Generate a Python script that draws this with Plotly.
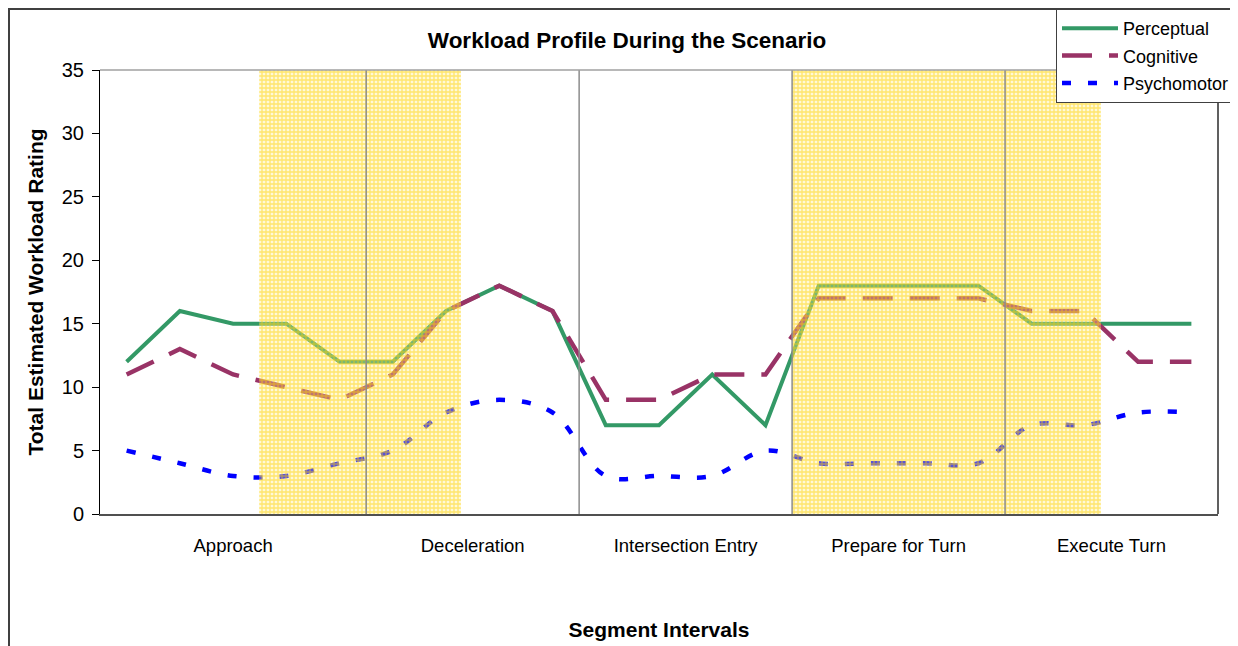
import plotly.graph_objects as go

# interval number along the scenario (one per estimate)
intervals = [1, 2, 3, 4, 5, 6, 7, 8, 9, 10, 11, 12, 13, 14, 15, 16, 17, 18, 19, 20, 21]

perceptual = [12, 16, 15, 15, 12, 12, 16, 18, 16, 7, 7, 11, 7, 18, 18, 18, 18, 15, 15, 15, 15]
cognitive = [11, 13, 11, 10, 9, 11, 16, 18, 16, 9, 9, 11, 11, 17, 17, 17, 17, 16, 16, 12, 12]
psychomotor = [5, 4, 3, 3, 4, 5, 8, 9, 8, 3, 3, 3, 5, 4, 4, 4, 4, 7, 7, 8, 8]

segments = ["Approach", "Deceleration", "Intersection Entry", "Prepare for Turn", "Execute Turn"]
segment_centers = [3, 7.5, 11.5, 15.5, 19.5]
segment_bounds = [5.5, 9.5, 13.5, 17.5]

# highlighted stretches (start, end) in interval units
band_start = [3.49, 13.5]
band_end = [7.28, 19.3]

FONT = "Liberation Sans, Arial, sans-serif"

fig = go.Figure()

fig.add_trace(go.Scatter(x=intervals, y=perceptual, name="Perceptual", mode="lines",
                         line=dict(color="#339966", width=4), legendgroup="a"))
fig.add_trace(go.Scatter(x=intervals, y=cognitive, name="Cognitive", mode="lines",
                         line=dict(color="#993366", width=4.5, dash="30px,17px"), legendgroup="b"))
fig.add_trace(go.Scatter(x=intervals, y=psychomotor, name="Psychomotor", mode="lines",
                         line=dict(color="#0000FF", width=4.5, dash="9px,17px", shape="spline"),
                         legendgroup="c"))

# yellow pattern bands, on an overlaid axis so they sit above the lines
centers = [(s + e) / 2 for s, e in zip(band_start, band_end)]
widths = [e - s for s, e in zip(band_start, band_end)]
fig.add_trace(go.Bar(x=centers, y=[35] * len(centers), width=widths, base=0,
                     xaxis="x2", yaxis="y2", showlegend=False, hoverinfo="skip",
                     marker=dict(color="#FFCC00", line=dict(width=0),
                                 pattern=dict(shape="+", size=4, solidity=0.55,
                                              fgcolor="#FFD000",
                                              bgcolor="rgba(255,236,140,0.35)"))))

shapes = []
for b in segment_bounds:
    shapes.append(dict(type="line", xref="x", yref="y", x0=b, x1=b, y0=0, y1=35,
                       line=dict(color="#8C8C8C", width=1.5), layer="above"))
# plot area top / right border
shapes.append(dict(type="line", xref="paper", yref="paper", x0=0, x1=1, y0=1, y1=1,
                   line=dict(color="#A0A0A0", width=1.5), layer="above"))
shapes.append(dict(type="line", xref="paper", yref="paper", x0=1, x1=1, y0=0, y1=1,
                   line=dict(color="#606060", width=2), layer="above"))
# chart frame
shapes.append(dict(type="rect", xref="paper", yref="paper", x0=-0.0814, x1=1.05,
                   y0=-0.35, y1=1.1374, line=dict(color="#404040", width=2), layer="below"))

fig.update_layout(
    width=1230, height=638,
    margin=dict(l=92, r=20, t=62, b=132, autoexpand=False),
    paper_bgcolor="white", plot_bgcolor="white",
    font=dict(family=FONT, color="black", size=18),
    title=dict(text="<b>Workload Profile During the Scenario</b>", x=619 / 1230, xanchor="center",
               y=1 - 32 / 638, yanchor="middle", font=dict(size=22.5)),
    shapes=shapes,
    showlegend=True,
    legend=dict(x=(1048 - 92) / 1118, y=1.1374, xanchor="left", yanchor="top",
                bgcolor="white", bordercolor="#404040", borderwidth=1,
                font=dict(size=18), itemwidth=56, tracegroupgap=1, traceorder="grouped"),
    xaxis=dict(range=[0.5, 21.5], tickvals=segment_centers, ticktext=segments,
               ticks="", showgrid=False, zeroline=False, showline=True,
               linecolor="#505050", linewidth=2, ticklabelstandoff=14,
               tickfont=dict(size=18.5),
               title=dict(text="<b>Segment Intervals</b>", font=dict(size=21), standoff=67)),
    yaxis=dict(range=[0, 35], dtick=5, ticks="outside", ticklen=7, tickcolor="black",
               showgrid=False, zeroline=False, showline=True, linecolor="black", linewidth=1,
               tickfont=dict(size=20), ticklabelstandoff=4,
               title=dict(text="<b>Total Estimated Workload Rating</b>", font=dict(size=21),
                          standoff=12)),
    xaxis2=dict(range=[0.5, 21.5], overlaying="x", visible=False),
    yaxis2=dict(range=[0, 35], overlaying="y", visible=False),
)

fig.write_html("out.html")
